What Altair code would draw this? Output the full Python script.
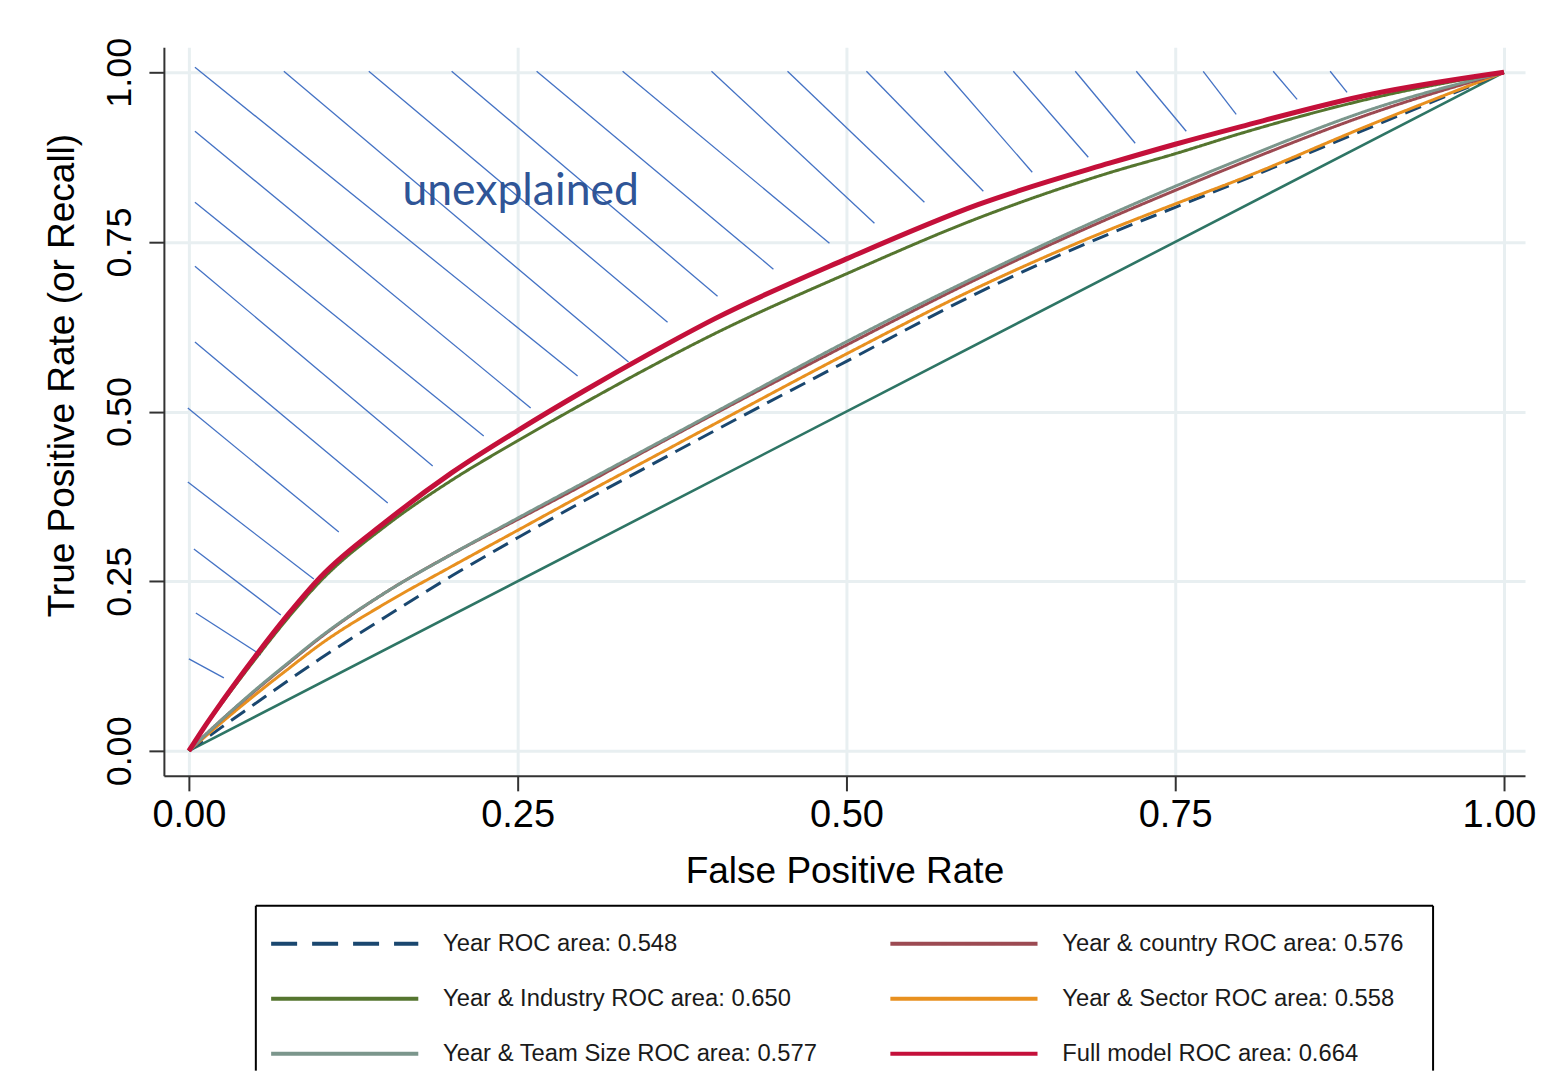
import altair as alt
import pandas as pd

# ---------------- data ----------------
fpr = [0, 0.01, 0.025, 0.05, 0.075, 0.1, 0.15, 0.2, 0.25, 0.3, 0.35, 0.4,
       0.5, 0.6, 0.7, 0.75, 0.8, 0.9, 1]

tpr_year = [0, 0.014, 0.035, 0.069, 0.103, 0.136, 0.198, 0.258, 0.314, 0.368, 0.42, 0.472,
            0.574, 0.675, 0.762, 0.801, 0.84, 0.92, 1]
tpr_country = [0, 0.019, 0.046, 0.088, 0.128, 0.167, 0.234, 0.29, 0.341, 0.392, 0.445, 0.497,
               0.598, 0.696, 0.785, 0.826, 0.866, 0.94, 1]
tpr_industry = [0, 0.03, 0.07, 0.134, 0.195, 0.25, 0.332, 0.399, 0.457, 0.512, 0.565, 0.615,
                0.703, 0.785, 0.852, 0.88, 0.91, 0.962, 1]
tpr_sector = [0, 0.017, 0.042, 0.082, 0.12, 0.157, 0.218, 0.272, 0.325, 0.378, 0.43, 0.482,
              0.585, 0.683, 0.768, 0.806, 0.843, 0.924, 1]
tpr_team = [0, 0.019, 0.046, 0.089, 0.129, 0.168, 0.234, 0.29, 0.343, 0.395, 0.447, 0.499,
            0.603, 0.70, 0.79, 0.832, 0.872, 0.946, 1]
tpr_full = [0, 0.03, 0.072, 0.138, 0.2, 0.256, 0.338, 0.41, 0.472, 0.53, 0.585, 0.637,
            0.725, 0.805, 0.866, 0.894, 0.92, 0.968, 1]

series_names = ["Year", "Year & country", "Year & Industry", "Year & Sector",
                "Year & Team Size", "Full model"]
roc_areas = ["0.548", "0.576", "0.650", "0.558", "0.577", "0.664"]
series_colors = ["#1a476f", "#9c4a52", "#55752f", "#e8901f", "#7b968c", "#c4103a"]
series_dash = [[17, 9], [1, 0], [1, 0], [1, 0], [1, 0], [1, 0]]
legend_dash = [[26, 15], [1, 0], [1, 0], [1, 0], [1, 0], [1, 0]]

chance_x = [0, 1]
chance_y = [0, 1]

# hatch strokes of the "unexplained" region (start and end, in data units)
hatch_x0 = [0.0046, 0.0046, 0.0046, 0.0046, 0.0046, -0.0008, -0.0008, 0.0038, 0.0053, 0.0,
            0.0722, 0.1368, 0.1998, 0.2644, 0.3298, 0.3974, 0.4552, 0.5152, 0.5745, 0.6269,
            0.6740, 0.7204, 0.7713, 0.8245, 0.8678]
hatch_y0 = [1.0074, 0.9131, 0.8085, 0.7143, 0.6024, 0.5052, 0.3962, 0.2975, 0.2032, 0.1355,
            1.0015, 1.0015, 1.0015, 1.0015, 1.0015, 1.0015, 1.0015, 1.0015, 1.0015, 1.0015,
            1.0015, 1.0015, 1.0015, 1.0015, 1.0015]
hatch_x1 = [0.2956, 0.2599, 0.2242, 0.1854, 0.1512, 0.1140, 0.0950, 0.0699, 0.0547, 0.0266,
            0.3343, 0.3640, 0.4020, 0.4445, 0.4871, 0.5213, 0.5593, 0.6041, 0.6413, 0.6839,
            0.7196, 0.7584, 0.7964, 0.8427, 0.8807]
hatch_y1 = [0.5523, 0.5052, 0.4639, 0.4197, 0.3652, 0.3225, 0.2533, 0.2003, 0.1414, 0.1075,
            0.5729, 0.6318, 0.6701, 0.7099, 0.7482, 0.7776, 0.8085, 0.8247, 0.8527, 0.8748,
            0.8954, 0.9131, 0.9381, 0.9602, 0.9705]

annot_label = ["unexplained"]
annot_x = [0.2523]
annot_y = [0.804]

tick_values = [0, 0.25, 0.5, 0.75, 1]

# legend layout: two columns, three rows
legend_order = ["Year", "Year & country", "Year & Industry", "Year & Sector",
                "Year & Team Size", "Full model"]
legend_col = [0, 1, 0, 1, 0, 1]
legend_row = [0, 0, 1, 1, 2, 2]
col_left = [0.013, 0.539]
sym_len = 0.125
text_gap = 0.146
leg_top = -0.691
leg_bottom = 2.309

# ---------------- tables ----------------
tpr_by_series = {
    "Year": tpr_year, "Year & country": tpr_country, "Year & Industry": tpr_industry,
    "Year & Sector": tpr_sector, "Year & Team Size": tpr_team, "Full model": tpr_full,
}
draw_order = ["Year", "Year & Sector", "Year & country", "Year & Team Size", "Year & Industry"]
curve_rows = []
for s in draw_order:
    for xv, yv in zip(fpr, tpr_by_series[s]):
        curve_rows.append({"series": s, "x": xv, "y": yv})
curve_df = pd.DataFrame(curve_rows)
full_df = pd.DataFrame({"x": fpr, "y": tpr_full})
diag_df = pd.DataFrame({"x": chance_x, "y": chance_y})
hatch_df = pd.DataFrame({"x": hatch_x0, "y": hatch_y0, "x2": hatch_x1, "y2": hatch_y1})
annot_df = pd.DataFrame({"label": annot_label, "x": annot_x, "y": annot_y})

area_of = dict(zip(series_names, roc_areas))
leg_df = pd.DataFrame({
    "series": legend_order,
    "label": [f"{s} ROC area: {area_of[s]}" for s in legend_order],
    "row": legend_row,
    "x0": [col_left[c] for c in legend_col],
    "x1": [col_left[c] + sym_len for c in legend_col],
    "xt": [col_left[c] + text_gap for c in legend_col],
})
# legend frame: top edge and the two side edges (the bottom is cut off in the picture)
frame_df = pd.DataFrame({
    "x": [0, 0, 1], "x2": [1, 0, 1],
    "y": [leg_top, leg_top, leg_top], "y2": [leg_top, leg_bottom, leg_bottom],
})

# ---------------- scales / axes ----------------
x_scale = alt.Scale(domain=[-0.019, 1.016], nice=False, zero=False)
y_scale = alt.Scale(domain=[-0.0368, 1.0368], nice=False, zero=False)

x_axis = alt.Axis(values=tick_values, format=".2f", labelFontSize=38, labelPadding=6,
                  titleFontSize=37, titlePadding=19, labelFlush=23, labelFlushOffset=32,
                  grid=True)
y_axis = alt.Axis(values=tick_values, format=".2f", labelFontSize=36, labelAngle=270,
                  labelAlign="center", labelBaseline="alphabetic", labelPadding=18,
                  titleFontSize=37, titlePadding=20, titleY=328, labelFlush=False, grid=True)

XT = "False Positive Rate"
YT = "True Positive Rate (or Recall)"


def X(f):
    return alt.X(f, type="quantitative", scale=x_scale, axis=x_axis, title=XT)


def Y(f):
    return alt.Y(f, type="quantitative", scale=y_scale, axis=y_axis, title=YT)


hatch = alt.Chart(hatch_df).mark_rule(color="#4472c4", strokeWidth=1.3).encode(
    x=X("x"), y=Y("y"), x2="x2:Q", y2="y2:Q")

diag = alt.Chart(diag_df).mark_line(color="#2e7565", strokeWidth=2.6).encode(
    x=X("x"), y=Y("y"))

color_scale = alt.Scale(domain=series_names, range=series_colors)

curves = alt.Chart(curve_df).mark_line(strokeWidth=3, interpolate="monotone").encode(
    x=X("x"), y=Y("y"),
    color=alt.Color("series:N", scale=color_scale, legend=None),
    strokeDash=alt.StrokeDash("series:N", scale=alt.Scale(domain=series_names, range=series_dash),
                              legend=None),
)

full = alt.Chart(full_df).mark_line(color="#c4103a", strokeWidth=5, interpolate="monotone").encode(
    x=X("x"), y=Y("y"))

annot = alt.Chart(annot_df).mark_text(font="Lato", fontSize=44.5, color="#2f5597",
                                      align="center", baseline="alphabetic").encode(
    x=X("x"), y=Y("y"), text="label:N")

main = alt.layer(hatch, diag, curves, full, annot).properties(
    width=1362, height=729, view=alt.ViewBackground(stroke="transparent"))

# ---------------- legend box ----------------
lx = alt.Scale(domain=[0, 1], nice=False, zero=False)
ly = alt.Scale(domain=[leg_top, leg_bottom], nice=False, zero=False, reverse=True)

frame = alt.Chart(frame_df).mark_rule(color="black", strokeWidth=2).encode(
    x=alt.X("x:Q", scale=lx, axis=None), x2="x2:Q",
    y=alt.Y("y:Q", scale=ly, axis=None), y2="y2:Q")

leg_rules = alt.Chart(leg_df).mark_rule(strokeWidth=4).encode(
    x=alt.X("x0:Q", scale=lx, axis=None),
    x2="x1:Q",
    y=alt.Y("row:Q", scale=ly, axis=None),
    color=alt.Color("series:N", scale=color_scale, legend=None),
    strokeDash=alt.StrokeDash("series:N", scale=alt.Scale(domain=series_names, range=legend_dash),
                              legend=None),
)
leg_text = alt.Chart(leg_df).mark_text(align="left", baseline="middle", font="Liberation Sans",
                                       fontSize=23.8, color="#1a1a1a").encode(
    x=alt.X("xt:Q", scale=lx, axis=None),
    y=alt.Y("row:Q", scale=ly, axis=None),
    text="label:N",
)
legend = alt.layer(frame, leg_rules, leg_text).properties(
    width=1178, height=165, view=alt.ViewBackground(stroke="transparent"))

chart = (
    alt.vconcat(main, legend, spacing=130, bounds="flush", center=True)
    .resolve_scale(color="independent", strokeDash="independent")
    .properties(padding={"left": 35, "top": 28, "right": 0, "bottom": 0})
    .configure_axis(domainColor="#333333", domainWidth=2, tickColor="#333333", tickWidth=2,
                    tickSize=15, gridColor="#e8eff1", gridWidth=3,
                    labelFont="Liberation Sans", titleFont="Liberation Sans",
                    labelColor="black", titleColor="black", titleFontWeight="normal")
    .configure_view(stroke="transparent")
)

chart.save("out.html", embed_options={"renderer": "svg", "actions": False})
